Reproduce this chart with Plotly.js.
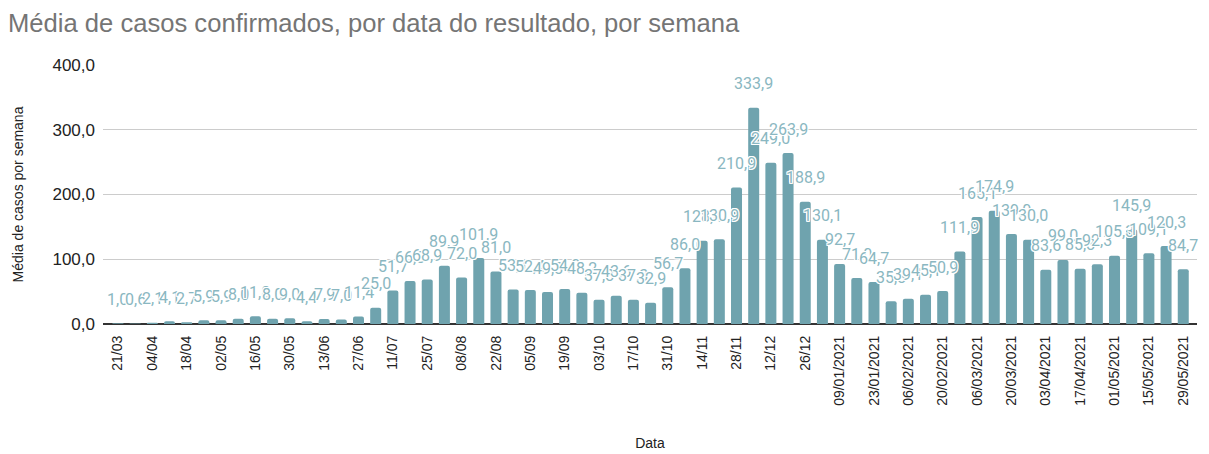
<!DOCTYPE html>
<html>
<head>
<meta charset="utf-8">
<script src="https://cdn.plot.ly/plotly-3.0.1.min.js"></script>
<style>html,body{margin:0;padding:0;background:#fff;}#chart{width:1209px;height:454px;}</style>
</head>
<body>
<div id="chart"></div>
<script>
const dates = [
  "21/03","28/03","04/04","11/04","18/04","25/04","02/05","09/05","16/05","23/05",
  "30/05","06/06","13/06","20/06","27/06","04/07","11/07","18/07","25/07","01/08",
  "08/08","15/08","22/08","29/08","05/09","12/09","19/09","26/09","03/10","10/10",
  "17/10","24/10","31/10","07/11","14/11","21/11","28/11","05/12","12/12","19/12",
  "26/12","02/01/2021","09/01/2021","16/01/2021","23/01/2021","30/01/2021","06/02/2021","13/02/2021","20/02/2021","27/02/2021",
  "06/03/2021","13/03/2021","20/03/2021","27/03/2021","03/04/2021","10/04/2021","17/04/2021","24/04/2021","01/05/2021","08/05/2021",
  "15/05/2021","22/05/2021","29/05/2021"
];
const mediaCasos = [
  1.0, 0.6, 2.1, 4.1, 2.7, 5.9, 5.9, 8.0, 11.8, 8.0,
  9.0, 4.4, 7.9, 7.0, 11.4, 25.0, 51.7, 66.3, 68.9, 89.9,
  72.0, 101.9, 81.0, 53.1, 52.4, 49.3, 54.0, 48.2, 37.3, 43.6,
  37.3, 32.9, 56.7, 86.0, 128.4, 130.9, 210.9, 333.9, 249.0, 263.9,
  188.9, 130.1, 92.7, 71.0, 64.7, 35.3, 39.1, 45.1, 50.9, 111.9,
  165.1, 174.9, 139.0, 130.0, 83.6, 99.0, 85.3, 92.3, 105.3, 145.9,
  109.1, 120.3, 84.7
];
const tickDates = dates.filter((d, i) => i % 2 === 0);
const yTicks = [0, 100, 200, 300, 400];

const FONT = 'Liberation Sans, Arial, sans-serif';
const labelFont = {
  family: 'Roboto, sans-serif', size: 16, color: '#8ab7c1',
  shadow: '-1px -1px 0 #fff, 1px -1px 0 #fff, -1px 1px 0 #fff, 1px 1px 0 #fff, 0 -1px 0 #fff, 0 1px 0 #fff, -1px 0 0 #fff, 1px 0 0 #fff'
};

const trace = {
  type: 'bar',
  x: dates,
  y: mediaCasos,
  marker: {color: '#6fa3ae', cornerradius: 2},
  hoverinfo: 'x+y'
};

const labels = dates.map((d, i) => ({
  x: d, y: mediaCasos[i], xref: 'x', yref: 'y',
  text: mediaCasos[i].toFixed(1).replace('.', ','),
  showarrow: false, yanchor: 'middle', xanchor: 'center', yshift: 24,
  font: labelFont
}));

const layout = {
  width: 1209, height: 454,
  margin: {l: 103, r: 12, t: 65, b: 130},
  paper_bgcolor: '#fff', plot_bgcolor: '#fff',
  separators: ',.',
  bargap: 0.36,
  showlegend: false,
  annotations: labels,
  title: {
    text: 'Média de casos confirmados, por data do resultado, por semana',
    x: 8 / 1209, xanchor: 'left', xref: 'container',
    y: 0.950, yanchor: 'middle', yref: 'container',
    font: {family: FONT, size: 25.6, color: '#757575'}
  },
  xaxis: {
    type: 'category',
    range: [-0.87, 62.8],
    tickmode: 'array', tickvals: tickDates, ticktext: tickDates,
    tickangle: -90,
    tickfont: {family: FONT, size: 14, color: '#222'},
    ticklabelstandoff: 8,
    showgrid: false, showline: false, ticks: '',
    title: {text: 'Data', standoff: 33, font: {family: FONT, size: 14, color: '#222'}}
  },
  yaxis: {
    range: [0, 400], tickvals: yTicks, tickformat: '.1f',
    tickfont: {family: FONT, size: 17, color: '#222'},
    gridcolor: '#cccccc', gridwidth: 1,
    zeroline: true, zerolinecolor: '#333', zerolinewidth: 1.5,
    ticks: '', ticklabelstandoff: 7,
    title: {text: 'Média de casos por semana', standoff: 25, font: {family: FONT, size: 14, color: '#222'}}
  }
};

Plotly.newPlot('chart', [trace], layout, {displayModeBar: false, staticPlot: true});
</script>
</body>
</html>
